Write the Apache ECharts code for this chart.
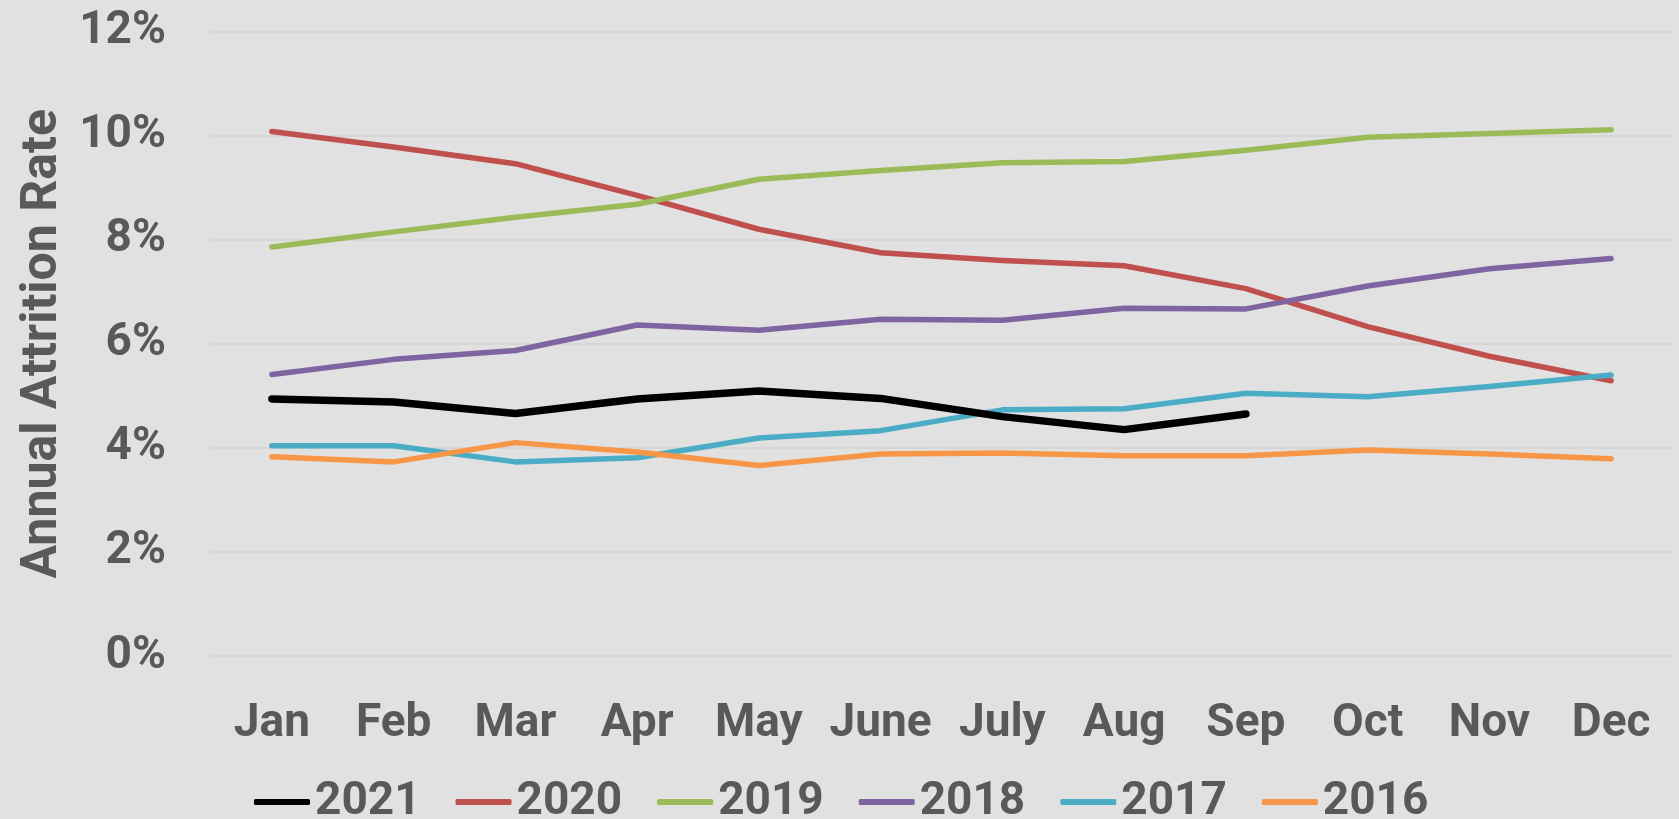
<!DOCTYPE html>
<html>
<head>
<meta charset="utf-8">
<script src="https://cdn.jsdelivr.net/npm/echarts@6/dist/echarts.min.js"></script>
<style>
  html, body { margin: 0; padding: 0; background: #e1e1e1; }
  #chart { width: 1679px; height: 819px; }
</style>
</head>
<body>
<div id="chart"></div>
<script>
const months = ['Jan', 'Feb', 'Mar', 'Apr', 'May', 'June', 'July', 'Aug', 'Sep', 'Oct', 'Nov', 'Dec']
const yTicks = [0, 2, 4, 6, 8, 10, 12]

// annual attrition rate, %
const rate2021 = [4.94, 4.88, 4.66, 4.94, 5.09, 4.95, 4.60, 4.35, 4.65]
const rate2020 = [10.08, 9.78, 9.46, 8.85, 8.20, 7.75, 7.60, 7.50, 7.06, 6.33, 5.76, 5.29]
const rate2019 = [7.86, 8.15, 8.43, 8.68, 9.16, 9.33, 9.48, 9.50, 9.72, 9.97, 10.04, 10.11]
const rate2018 = [5.41, 5.70, 5.87, 6.36, 6.26, 6.47, 6.45, 6.68, 6.67, 7.11, 7.44, 7.64]
const rate2017 = [4.04, 4.04, 3.73, 3.81, 4.19, 4.33, 4.73, 4.75, 5.05, 4.98, 5.18, 5.40]
const rate2016 = [3.83, 3.73, 4.10, 3.92, 3.66, 3.88, 3.90, 3.85, 3.85, 3.96, 3.88, 3.79]

const years = ['2021', '2020', '2019', '2018', '2017', '2016']
const colors = ['#000000', '#c0504d', '#9bbb59', '#8064a2', '#4bacc6', '#f79646']
const rates = [rate2021, rate2020, rate2019, rate2018, rate2017, rate2016]

const font = 'Roboto'
const textColor = '#595959'

const chart = echarts.init(document.getElementById('chart'))

const series = years.map((y, i) => ({
  name: y,
  type: 'line',
  data: rates[i],
  symbol: 'none',
  z: i === 0 ? 10 : 5,
  lineStyle: {
    color: colors[i],
    width: i === 0 ? 7.5 : 5.5,
    cap: 'round',
    join: 'round'
  },
  itemStyle: { color: colors[i] }
}))

chart.setOption({
  backgroundColor: '#e1e1e1',
  animation: false,
  color: colors,
  grid: {
    left: 211,
    right: 7,
    top: 31.5,
    bottom: 163
  },
  legend: {
    data: years,
    left: 249,
    top: 774,
    icon: 'roundRect',
    itemWidth: 56,
    itemHeight: 6,
    itemGap: 35,
    textStyle: {
      fontFamily: font,
      fontWeight: 'bold',
      fontSize: 46,
      color: textColor
    }
  },
  xAxis: {
    type: 'category',
    data: months,
    boundaryGap: true,
    axisLine: { show: false },
    axisTick: { show: false },
    axisLabel: {
      interval: 0,
      margin: 45,
      fontFamily: font,
      fontWeight: 'bold',
      fontSize: 46,
      color: textColor
    }
  },
  yAxis: {
    type: 'value',
    min: yTicks[0],
    max: yTicks[yTicks.length - 1],
    interval: 2,
    name: 'Annual Attrition Rate',
    nameLocation: 'middle',
    nameGap: 143,
    nameTextStyle: {
      fontFamily: font,
      fontWeight: 'bold',
      fontSize: 50,
      color: textColor
    },
    axisLine: { show: false },
    axisTick: { show: false },
    axisLabel: {
      margin: 45,
      formatter: '{value}%',
      fontFamily: font,
      fontWeight: 'bold',
      fontSize: 46,
      color: textColor
    },
    splitLine: {
      lineStyle: { color: '#d6d6d6', width: 2 }
    }
  },
  series: series
})
</script>
</body>
</html>
